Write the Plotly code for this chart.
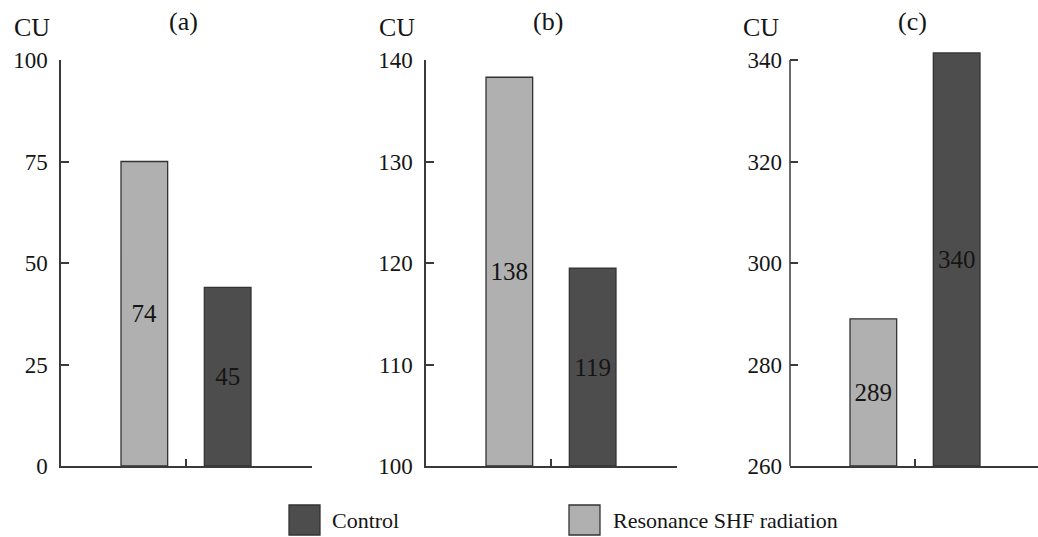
import plotly.graph_objects as go

# ---------------- data ----------------
panels = ["(a)", "(b)", "(c)"]
series_names = ["Control", "Resonance SHF radiation"]
# bar heights as drawn (Resonance, Control) per panel
resonance_vals = [75, 138.3, 289]
control_vals = [44, 119.5, 341.4]
# printed value labels
resonance_labels = ["74", "138", "289"]
control_labels = ["45", "119", "340"]
y_mins = [0, 100, 260]
y_maxs = [100, 140, 340]
y_ticks = [[0, 25, 50, 75, 100], [100, 110, 120, 130, 140], [260, 280, 300, 320, 340]]
unit_label = "CU"

# ---------------- styling ----------------
W, H = 1038, 537
FONT = "Liberation Serif, Times New Roman, serif"
LIGHT = "#b0b0b0"
DARK = "#4d4d4d"
EDGE = "#333333"
AXC = "#3a3a3a"
TXT = "#151515"
FS_TICK = 23
FS_BAR = 25
FS_HEAD = 26
FS_LEG = 22

def px_x(p):
    return p / W

def px_y(p):
    return 1 - p / H

top_px, bot_px = 60, 466
x_left_px = [61, 426, 790]
x_span_px = 250

fig = go.Figure()
shapes = []
annotations = []

for i in range(3):
    xa = "x" if i == 0 else f"x{i+1}"
    ya = "y" if i == 0 else f"y{i+1}"
    xl = x_left_px[i]
    xr = min(xl + x_span_px + 0.5, W)
    xrange_max = 3 * (xr - xl) / x_span_px
    fig.add_trace(go.Bar(
        x=[1], y=[resonance_vals[i] - y_mins[i]], base=[y_mins[i]],
        width=0.56, marker=dict(color=LIGHT, line=dict(color=EDGE, width=1.3)),
        text=[resonance_labels[i]], textposition="inside", insidetextanchor="middle",
        textfont=dict(family=FONT, size=FS_BAR, color=TXT), textangle=0,
        xaxis=xa, yaxis=ya, showlegend=False, name=series_names[1]))
    fig.add_trace(go.Bar(
        x=[2], y=[control_vals[i] - y_mins[i]], base=[y_mins[i]],
        width=0.56, marker=dict(color=DARK, line=dict(color=EDGE, width=1.3)),
        text=[control_labels[i]], textposition="inside", insidetextanchor="middle",
        textfont=dict(family=FONT, size=FS_BAR, color=TXT), textangle=0,
        xaxis=xa, yaxis=ya, showlegend=False, name=series_names[0]))

    yrng_max = y_maxs[i]
    dom_top = top_px
    if i == 2:
        # allow the control bar to rise above the top tick
        extra = control_vals[i] - y_maxs[i] + 0.6
        yrng_max = y_maxs[i] + extra
        dom_top = top_px - extra * (bot_px - top_px) / (y_maxs[i] - y_mins[i])

    xkey = "xaxis" if i == 0 else f"xaxis{i+1}"
    ykey = "yaxis" if i == 0 else f"yaxis{i+1}"
    fig.update_layout(**{
        xkey: dict(domain=[px_x(xl), px_x(xr)], range=[0, xrange_max], anchor=ya,
                   automargin=False,
                   showline=True, linecolor=AXC, linewidth=1.5,
                   ticks="inside", tickvals=[1.5, 3], ticklen=7, tickwidth=1.5, tickcolor=AXC,
                   showticklabels=False, showgrid=False, zeroline=False, fixedrange=True),
        ykey: dict(domain=[px_y(bot_px), px_y(dom_top)], range=[y_mins[i], yrng_max], anchor=xa,
                   automargin=False,
                   showline=(i != 2), linecolor=AXC, linewidth=1.5,
                   ticks="inside", tickvals=y_ticks[i], ticklen=8, tickwidth=1.5, tickcolor=AXC,
                   ticklabelstandoff=7,
                   tickfont=dict(family=FONT, size=FS_TICK, color=TXT),
                   showgrid=False, zeroline=False, fixedrange=True),
    })
    if i == 2:
        shapes.append(dict(type="line", xref=f"{xa} domain", yref=ya, x0=0, x1=0,
                           y0=y_mins[i], y1=y_maxs[i], line=dict(color=AXC, width=1.5)))

    # panel letter
    annotations.append(dict(text=panels[i], x=px_x(xl + 122), y=px_y(21), xref="paper", yref="paper",
                            showarrow=False, xanchor="center", yanchor="middle",
                            font=dict(family=FONT, size=FS_HEAD, color=TXT)))
    # unit label
    annotations.append(dict(text=unit_label, x=px_x(xl - 9), y=px_y(28), xref="paper", yref="paper",
                            showarrow=False, xanchor="right", yanchor="middle",
                            font=dict(family=FONT, size=FS_HEAD, color=TXT)))

# legend (drawn manually for large swatches)
legend_items = [(series_names[0], DARK, 289, 330), (series_names[1], LIGHT, 569, 611)]
for name, col, sx, tx in legend_items:
    shapes.append(dict(type="rect", xref="paper", yref="paper",
                       x0=px_x(sx), x1=px_x(sx + 31), y0=px_y(535), y1=px_y(505),
                       fillcolor=col, line=dict(color=EDGE, width=1.3)))
    annotations.append(dict(text=name, x=px_x(tx), y=px_y(520), xref="paper", yref="paper",
                            showarrow=False, xanchor="left", yanchor="middle",
                            font=dict(family=FONT, size=FS_LEG, color=TXT)))

fig.update_layout(
    template="none",
    width=W, height=H,
    margin=dict(l=0, r=0, t=0, b=0, autoexpand=False),
    paper_bgcolor="white", plot_bgcolor="white",
    barmode="overlay", showlegend=False,
    shapes=shapes, annotations=annotations,
    font=dict(family=FONT, size=FS_TICK, color=TXT),
    uniformtext=dict(minsize=FS_BAR, mode="show"),
)

fig.write_html("out.html", config={"displayModeBar": False},
               post_script="document.body.style.margin='0px';document.body.style.overflow='hidden';")
